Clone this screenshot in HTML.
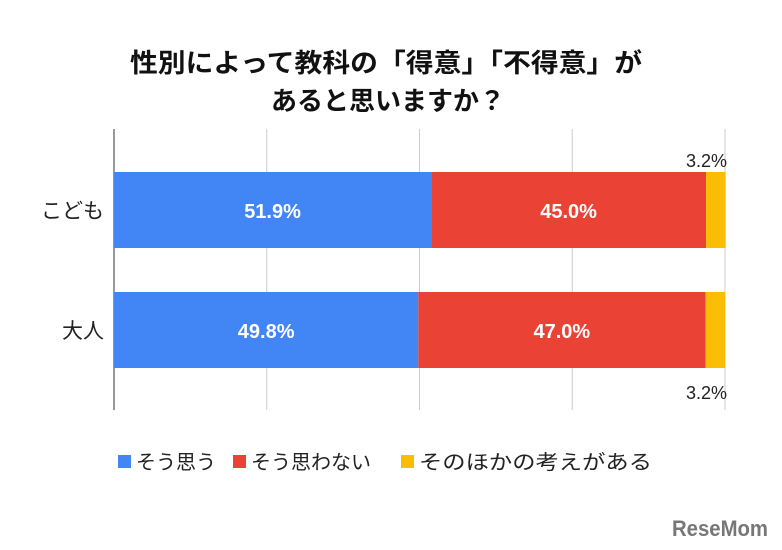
<!DOCTYPE html>
<html><head><meta charset="utf-8"><style>
body{margin:0;background:#fff;}
svg{display:block;font-family:"Liberation Sans","Noto Sans CJK JP",sans-serif;}
</style></head><body>
<svg id="c" width="782" height="550">
<text x="386" y="72" text-anchor="middle" font-size="26" font-weight="bold" fill="#111" textLength="512" lengthAdjust="spacingAndGlyphs">性別によって教科の「得意」「不得意」が</text>
<text x="388" y="110" text-anchor="middle" font-size="26" font-weight="bold" fill="#111">あると思いますか？</text>
<g id="grid"></g>
<g id="bars"></g>
<g>
<rect x="118" y="455" width="13" height="13" fill="#4285f4"/>
<text x="136" y="469" font-size="20" fill="#222">そう思う</text>
<rect x="233" y="455" width="13" height="13" fill="#ea4335"/>
<text x="251" y="469" font-size="20" fill="#222">そう思わない</text>
<rect x="401" y="455" width="13" height="13" fill="#fbbc04"/>
<text x="419" y="469" font-size="20" fill="#222" textLength="233" lengthAdjust="spacingAndGlyphs">そのほかの考えがある</text>
</g>
<text x="768" y="536" text-anchor="end" font-size="22" font-weight="bold" fill="#777" textLength="96" lengthAdjust="spacingAndGlyphs">ReseMom</text>
</svg>
<script>
const categories=["こども","大人"];
const agree=[51.9,49.8];
const disagree=[45.0,47.0];
const other=[3.2,3.2];
const ticks=[0,25,50,75,100];
const NS="http://www.w3.org/2000/svg";
const x0=114,x1=725;
const xs=v=>x0+(x1-x0)*v/100;
const bandTop=130,band=120,barH=76;
const yc=i=>bandTop+band*i+42;
function mk(t,a,p){const e=document.createElementNS(NS,t);for(const k in a)e.setAttribute(k,a[k]);p.appendChild(e);return e;}
const grid=document.getElementById('grid'),bars=document.getElementById('bars');
ticks.forEach((t,i)=>{const l=mk('line',{x1:xs(t),x2:xs(t),y1:129,y2:410,stroke:i===0?'#333':'#ccc','stroke-width':1},grid);

});
categories.forEach((c,i)=>{
const y=yc(i);
const lab=mk('text',{x:104,y:y+barH/2+8,'text-anchor':'end','font-size':21,fill:'#222'},bars);lab.textContent=c;


const segs=[[agree[i],'#4285f4','agree'],[disagree[i],'#ea4335','disagree'],[other[i],'#fbbc04','other']];
let acc=0;
segs.forEach(([v,col,n],j)=>{
const r=mk('rect',{x:xs(acc),y:y,width:xs(acc+v)-xs(acc),height:barH,fill:col},bars);


const mid=(xs(acc)+xs(acc+v))/2;
if(j<2){const t=mk('text',{x:mid,y:y+barH/2+8,'text-anchor':'middle','font-size':20,'font-weight':'bold',fill:'#fff'},bars);t.textContent=v.toFixed(1)+'%';

}
else{const t=mk('text',{x:x1+2,y:i===0?y-5:y+barH+31,'text-anchor':'end','font-size':18,fill:'#222'},bars);t.textContent=v.toFixed(1)+'%';

}
acc+=v;});
});
</script>
</body></html>
